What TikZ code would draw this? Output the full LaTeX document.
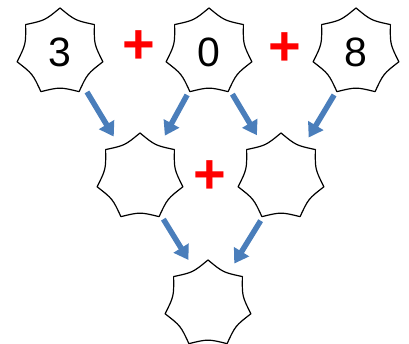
\documentclass[tikz,border=0pt]{standalone}
\usepackage{fontspec}
\setmainfont{Liberation Sans}
\usetikzlibrary{arrows.meta}
\tikzset{
  x=1pt,y=1pt,
  slot/.style={circle,minimum size=96pt,inner sep=0pt,font=\fontsize{41}{41}\selectfont},
  starline/.style={line width=1.2pt,black,line join=round},
  plussign/.style={text=red,font=\fontsize{56}{56}\selectfont\bfseries,inner sep=0pt},
  flow/.style={line width=5.5pt,draw={rgb,255:red,74;green,126;blue,187},
    -{Triangle[width=17pt,length=14pt]}}
}
\newcommand{\heptstar}[1]{%
  \draw[starline] ([shift={(90:44)}]#1.center)
  \foreach \k in {0,...,6}{
    .. controls ([shift={({115.7143+\k*51.4286}:35)}]#1.center)
    .. ([shift={({141.4286+\k*51.4286}:44)}]#1.center)
  } -- cycle;}
\begin{document}
\begin{tikzpicture}
\useasboundingbox (0,0) rectangle (409,343);
\node[slot] (a) at (60,291) {3};
\node[slot] (b) at (209,291) {0};
\node[slot] (c) at (356,291) {8};
\node[slot] (d) at (140,166) {};
\node[slot] (e) at (281,166) {};
\node[slot] (f) at (208,39) {};
\foreach \n in {a,b,c,d,e,f}{\heptstar{\n}}
\node[plussign] (p1) at (139,296) {+};
\node[plussign] (p2) at (285,294) {+};
\node[plussign] (p3) at (210,166) {+};
\draw[flow] (a.-56) -- (d.123);
\draw[flow] (b.-117) -- (d.59);
\draw[flow] (b.-61) -- (e.120);
\draw[flow] (c.-117) -- (e.55);
\draw[flow] (d.-61) -- (f.114);
\draw[flow] (e.-115) -- (f.57);
\end{tikzpicture}
\end{document}
